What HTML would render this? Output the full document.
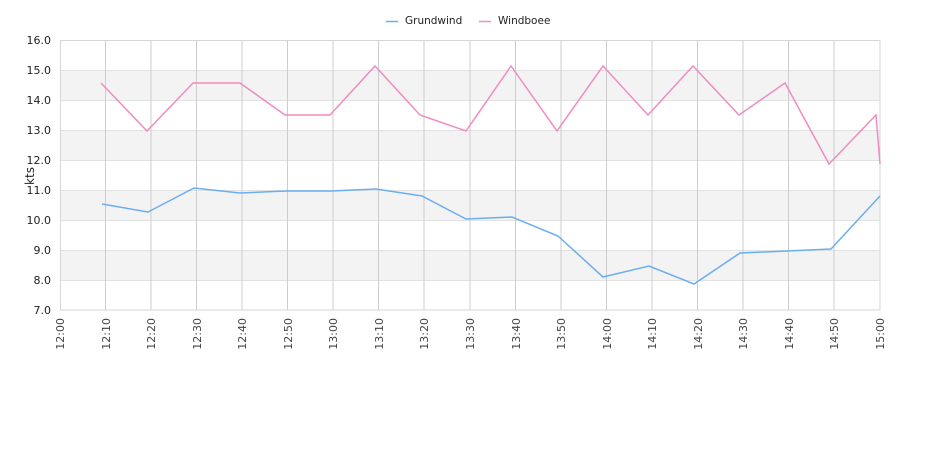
<!DOCTYPE html>
<html><head><meta charset="utf-8"><style>body{margin:0;background:#fff}svg{display:block;font-family:"DejaVu Sans","Liberation Sans",sans-serif}</style></head>
<body>
<svg width="940" height="450" viewBox="0 0 940 450">
<rect width="940" height="450" fill="#fff"/>
<g fill="#f3f3f3">
<rect x="60" y="70" width="820" height="30"/><rect x="60" y="130" width="820" height="30"/>
<rect x="60" y="190" width="820" height="30"/><rect x="60" y="250" width="820" height="30"/>
</g>
<g stroke="#e2e2e2" stroke-width="1">
<line x1="60" x2="880" y1="70.5" y2="70.5"/><line x1="60" x2="880" y1="100.5" y2="100.5"/>
<line x1="60" x2="880" y1="130.5" y2="130.5"/><line x1="60" x2="880" y1="160.5" y2="160.5"/>
<line x1="60" x2="880" y1="190.5" y2="190.5"/><line x1="60" x2="880" y1="220.5" y2="220.5"/>
<line x1="60" x2="880" y1="250.5" y2="250.5"/><line x1="60" x2="880" y1="280.5" y2="280.5"/>
</g>
<g stroke="#cccccc" stroke-width="1">
<line x1="105.5" x2="105.5" y1="40" y2="310"/><line x1="151" x2="151" y1="40" y2="310"/>
<line x1="196.5" x2="196.5" y1="40" y2="310"/><line x1="242" x2="242" y1="40" y2="310"/>
<line x1="287.5" x2="287.5" y1="40" y2="310"/><line x1="333" x2="333" y1="40" y2="310"/>
<line x1="378.5" x2="378.5" y1="40" y2="310"/><line x1="424" x2="424" y1="40" y2="310"/>
<line x1="470" x2="470" y1="40" y2="310"/><line x1="515.5" x2="515.5" y1="40" y2="310"/>
<line x1="561" x2="561" y1="40" y2="310"/><line x1="606.5" x2="606.5" y1="40" y2="310"/>
<line x1="652" x2="652" y1="40" y2="310"/><line x1="697.5" x2="697.5" y1="40" y2="310"/>
<line x1="743" x2="743" y1="40" y2="310"/><line x1="788.5" x2="788.5" y1="40" y2="310"/>
<line x1="834" x2="834" y1="40" y2="310"/>
</g>
<rect x="60.5" y="40.5" width="819.5" height="269.5" fill="none" stroke="#d6d6d6"/>
<polyline fill="none" stroke="#6aaef0" stroke-width="1.5" points="102,204 148,212 194,188 240,193 286,191 331,191 376,189 422,196 466,219 512,217 558,236 603,277 649,266 694,284 740,253 787,251 831,249 880,196"/>
<polyline fill="none" stroke="#f08cbf" stroke-width="1.5" points="101,83 147,131 193,83 240,83 285,115 330,115 375,66 420,115 466,131 511,66 557,131 603,66 648,115 693,66 739,115 785,83 829,164 876,115 880,164"/>
<g font-size="11" fill="#222" text-anchor="end">
<text x="51" y="44">16.0</text><text x="51" y="74">15.0</text><text x="51" y="104">14.0</text>
<text x="51" y="134">13.0</text><text x="51" y="164">12.0</text><text x="51" y="194">11.0</text>
<text x="51" y="224">10.0</text><text x="51" y="254">9.0</text><text x="51" y="284">8.0</text>
<text x="51" y="314">7.0</text>
</g>
<text transform="translate(34,176) rotate(-90)" font-size="12" fill="#222" text-anchor="middle">kts</text>
<g font-size="11" fill="#444" text-anchor="end">
<text transform="translate(64,318) rotate(-90)">12:00</text>
<text transform="translate(110,318) rotate(-90)">12:10</text>
<text transform="translate(155,318) rotate(-90)">12:20</text>
<text transform="translate(201,318) rotate(-90)">12:30</text>
<text transform="translate(246,318) rotate(-90)">12:40</text>
<text transform="translate(292,318) rotate(-90)">12:50</text>
<text transform="translate(337,318) rotate(-90)">13:00</text>
<text transform="translate(383,318) rotate(-90)">13:10</text>
<text transform="translate(428,318) rotate(-90)">13:20</text>
<text transform="translate(474,318) rotate(-90)">13:30</text>
<text transform="translate(520,318) rotate(-90)">13:40</text>
<text transform="translate(565,318) rotate(-90)">13:50</text>
<text transform="translate(611,318) rotate(-90)">14:00</text>
<text transform="translate(656,318) rotate(-90)">14:10</text>
<text transform="translate(702,318) rotate(-90)">14:20</text>
<text transform="translate(747,318) rotate(-90)">14:30</text>
<text transform="translate(793,318) rotate(-90)">14:40</text>
<text transform="translate(838,318) rotate(-90)">14:50</text>
<text transform="translate(884,318) rotate(-90)">15:00</text>
</g>
<line x1="386" x2="398" y1="21.5" y2="21.5" stroke="#6aaef0" stroke-width="1.5"/>
<text x="405" y="24" font-size="10.5" fill="#222">Grundwind</text>
<line x1="479" x2="491" y1="21.5" y2="21.5" stroke="#f08cbf" stroke-width="1.5"/>
<text x="498" y="24" font-size="10.5" fill="#222">Windboee</text>
</svg>
</body></html>
